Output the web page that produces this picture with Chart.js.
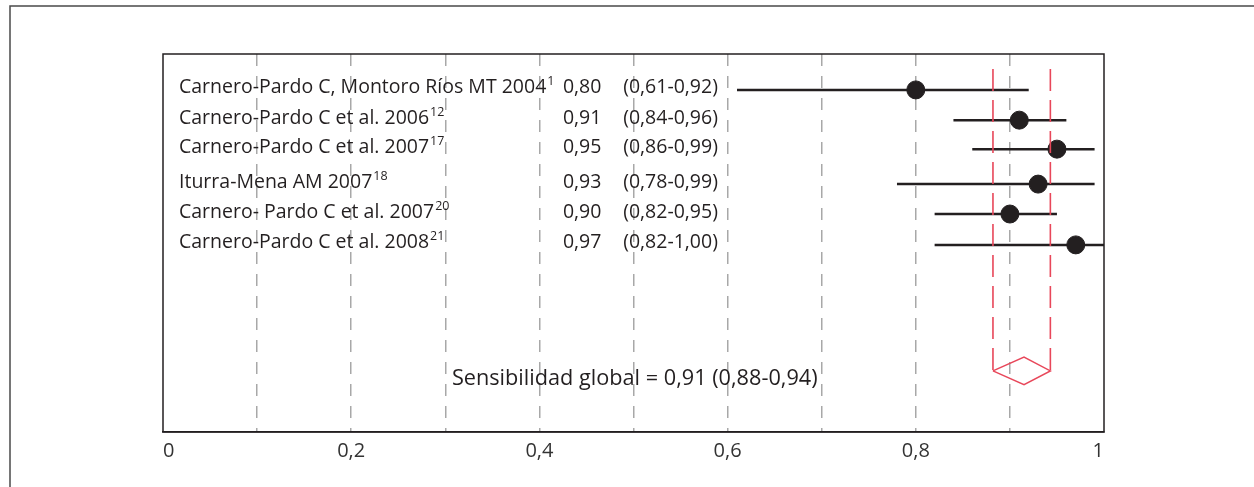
<!DOCTYPE html>
<html>
<head>
<meta charset="utf-8">
<script src="https://cdn.jsdelivr.net/npm/chart.js@4/dist/chart.umd.min.js"></script>
<style>
  html, body { margin: 0; padding: 0; background: #fff; }
  #wrap { width: 1254px; height: 487px; position: relative; }
</style>
</head>
<body>
<div id="wrap"><canvas id="forest"></canvas></div>
<script>
// studies, top to bottom
const studies = ['Carnero-Pardo C, Montoro Ríos MT 2004', 'Carnero-Pardo C et al. 2006', 'Carnero-Pardo C et al. 2007',
                 'Iturra-Mena AM 2007', 'Carnero- Pardo C et al. 2007', 'Carnero-Pardo C et al. 2008'];
const refs = ['1', '12', '17', '18', '20', '21'];
const estimates = [0.80, 0.91, 0.95, 0.93, 0.90, 0.97];
const lower = [0.61, 0.84, 0.86, 0.78, 0.82, 0.82];
const upper = [0.92, 0.96, 0.99, 0.99, 0.95, 1.00];
const rowPos = [1.14, 2.1, 3.02, 4.13, 5.08, 6.06];   // vertical slot of each study

// pooled sensitivity (diamond)
const pooledEst = 0.915;
const pooledLow = 0.882;
const pooledHigh = 0.943;
const pooledRow = 10.06;
const pooledLabel = 'Sensibilidad global = 0,91 (0,88-0,94)';

const xTicks = [0, 0.2, 0.4, 0.6, 0.8, 1];

const fmt = v => v.toFixed(2).replace('.', ',');

const datasets = [];
// confidence intervals
studies.forEach((s, i) => {
  datasets.push({
    data: [{x: lower[i], y: rowPos[i]}, {x: upper[i], y: rowPos[i]}],
    showLine: true, borderColor: '#231f20', borderWidth: 2.5,
    pointRadius: 0, order: 3
  });
});
// point estimates
datasets.push({
  data: estimates.map((v, i) => ({x: v, y: rowPos[i]})),
  pointRadius: 9, pointBackgroundColor: '#231f20', pointBorderColor: '#231f20',
  order: 2
});
// pooled CI guide lines
[pooledLow, pooledHigh].forEach(v => {
  datasets.push({
    data: [{x: v, y: 0.48}, {x: v, y: pooledRow}],
    showLine: true, borderColor: '#e8475a', borderWidth: 1.6, borderDash: [22, 9],
    pointRadius: 0, order: 1
  });
});
// diamond
datasets.push({
  data: [
    {x: pooledLow, y: pooledRow}, {x: pooledEst, y: pooledRow - 0.44},
    {x: pooledHigh, y: pooledRow}, {x: pooledEst, y: pooledRow + 0.44},
    {x: pooledLow, y: pooledRow}
  ],
  showLine: true, borderColor: '#e8475a', borderWidth: 1.5, pointRadius: 0, order: 0
});

const textPlugin = {
  id: 'forestText',
  afterDraw(chart) {
    const ctx = chart.ctx, xs = chart.scales.x, ys = chart.scales.y;
    const a = chart.chartArea;
    ctx.save();
    // outer frame
    ctx.strokeStyle = '#4a4a4a';
    ctx.lineWidth = 1.5;
    ctx.strokeRect(10, 6, 1400, 700);
    // plot box
    ctx.strokeStyle = '#231f20';
    ctx.lineWidth = 1.5;
    ctx.strokeRect(a.left, a.top, a.right - a.left, a.bottom - a.top);

    ctx.fillStyle = '#231f20';
    ctx.textBaseline = 'middle';
    studies.forEach((s, i) => {
      const y = ys.getPixelForValue(rowPos[i]) - 2;
      const x = xs.getPixelForValue(0.017);
      ctx.font = '19.5px "Open Sans"';
      ctx.fillText(s, x, y);
      const w = ctx.measureText(s).width;
      ctx.fillText(fmt(estimates[i]), xs.getPixelForValue(0.425), y);
      ctx.fillText('(' + fmt(lower[i]) + '-' + fmt(upper[i]) + ')', xs.getPixelForValue(0.489), y);
      ctx.font = '12.5px "Open Sans"';
      ctx.fillText(refs[i], x + w + 1, y - 6);
    });
    ctx.font = '21.7px "Open Sans"';
    ctx.fillText(pooledLabel, xs.getPixelForValue(0.307), ys.getPixelForValue(pooledRow + 0.25));
    ctx.restore();
  }
};

new Chart(document.getElementById('forest'), {
  type: 'scatter',
  data: { datasets: datasets },
  options: {
    responsive: true,
    maintainAspectRatio: false,
    animation: false,
    clip: false,
    layout: { padding: { left: 163, right: 150, top: 54, bottom: 0 } },
    plugins: { legend: { display: false }, tooltip: { enabled: false } },
    scales: {
      x: {
        type: 'linear', min: 0, max: 1,
        afterFit: s => { s.height = 55; },
        afterBuildTicks: s => {
          s.ticks = [];
          for (let k = 0; k <= 10; k++) s.ticks.push({value: k / 10});
        },
        grid: {
          drawTicks: false,
          lineWidth: 1.5,
          color: c => (c.tick && (c.tick.value === 0 || c.tick.value === 1)) ? 'rgba(0,0,0,0)' : '#a8a8a8'
        },
        border: { color: '#231f20', width: 1.5, dash: [12, 10] },
        ticks: {
          align: 'inner',
          padding: 7,
          color: '#333',
          font: { family: 'Open Sans', size: 20 },
          autoSkip: false,
          maxRotation: 0,
          callback: v => {
            const hit = xTicks.find(t => Math.abs(t - v) < 1e-6);
            if (hit === undefined) return '';
            return String(hit).replace('.', ',');
          }
        }
      },
      y: { type: 'linear', min: 0, max: 12, reverse: true, display: false }
    }
  },
  plugins: [textPlugin]
});
</script>
</body>
</html>
